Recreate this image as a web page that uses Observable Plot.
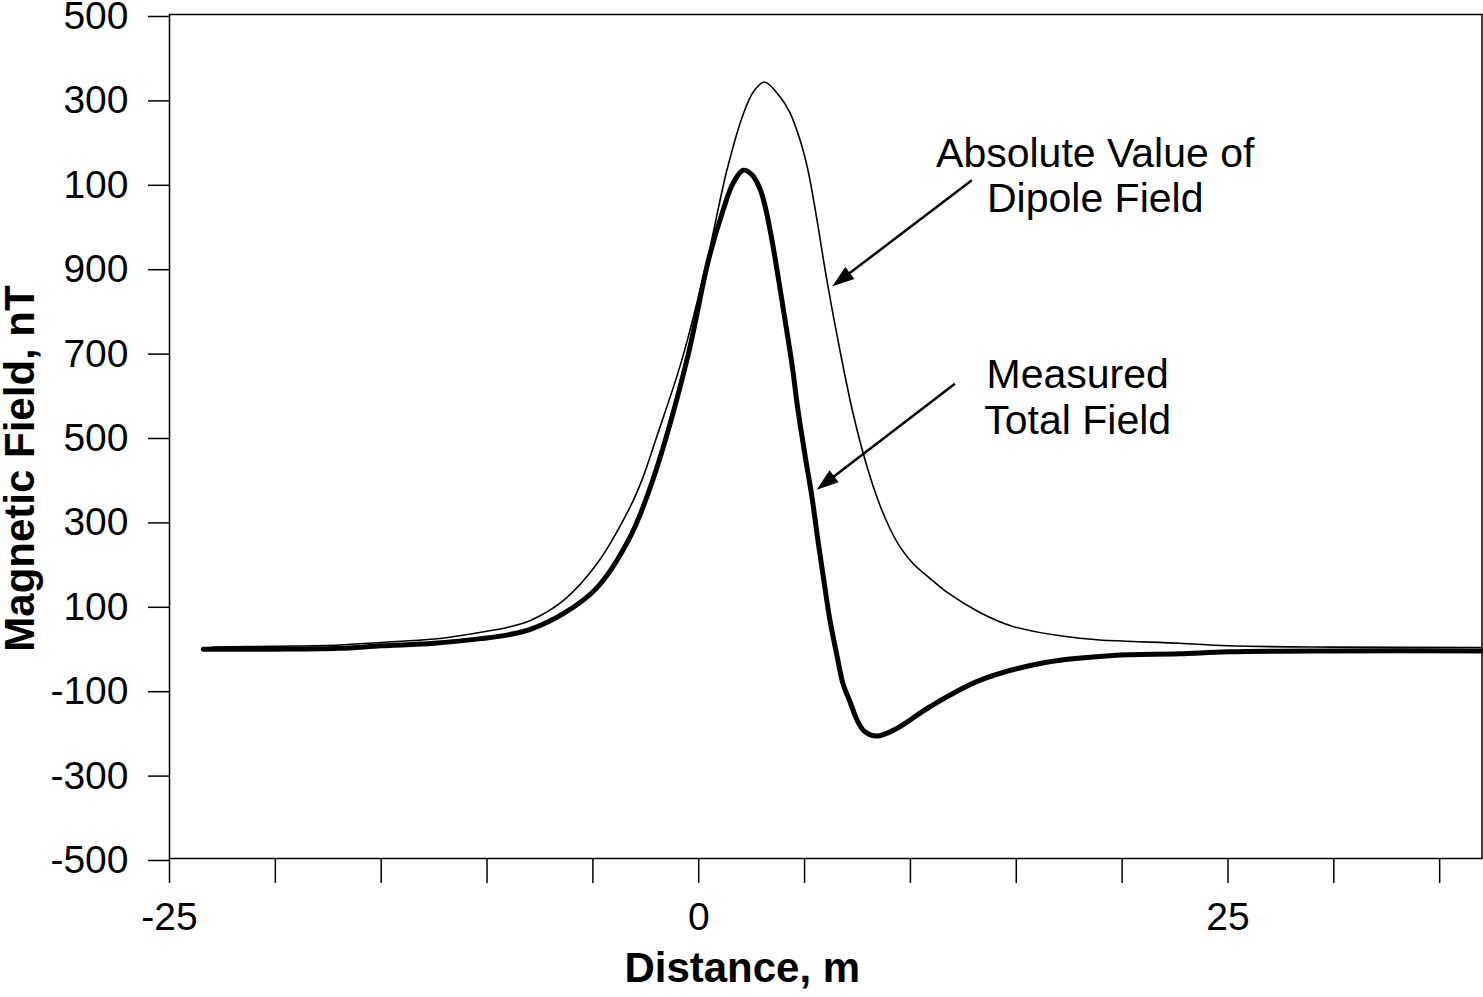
<!DOCTYPE html>
<html><head><meta charset="utf-8">
<script src="https://cdn.jsdelivr.net/npm/d3@7"></script>
<script src="https://cdn.jsdelivr.net/npm/@observablehq/plot@0.6"></script>
<style>html,body{margin:0;padding:0;background:#fff;} #chart svg{display:block;}</style>
</head><body><div id="chart"></div>
<script>
// Measured total field (thick curve)
const measuredX = [-23.4, -20, -17, -15, -12.5, -10.3, -9, -7.95, -6.4, -4.8, -3.24, -2.13, -0.56, 0.46, 1.15, 1.62, 2.1, 2.52, 2.9, 3.18, 3.46, 3.74, 4.08, 4.41, 4.69, 5.02, 5.35, 5.63, 5.91, 6.2, 6.53, 6.81, 7.14, 7.51, 7.84, 8.41, 9.35, 10.9, 13.28, 16.43, 19.56, 22.7, 25, 30, 37];
const measuredY = [-4, -4, -2, 4, 10, 21, 30, 43, 80, 142, 262, 403, 681, 918, 1036, 1100, 1131, 1120, 1086, 1036, 965, 882, 775, 669, 562, 456, 356, 254, 159, 64, -19, -85, -128, -175, -199, -210, -192, -141, -78, -35, -19, -15, -10, -8, -8];
// Absolute value of dipole field (thin curve)
const dipoleX = [-23.0, -20, -17, -15, -12.5, -10.3, -9, -7.95, -6.4, -4.8, -3.24, -2.69, -1.98, -0.8, 0.4, 1.33, 2.11, 2.6, 3.1, 3.84, 4.3, 4.79, 5.16, 5.54, 6.05, 6.67, 7.28, 7.93, 8.56, 9.03, 9.5, 10.12, 10.92, 11.72, 13.28, 14.84, 18.0, 22.72, 25, 30, 37];
const dipoleY = [1, 3, 6, 12, 20, 36, 48, 64, 111, 199, 333, 396, 500, 681, 918, 1131, 1265, 1318, 1340, 1305, 1268, 1202, 1131, 1027, 871, 704, 557, 432, 337, 282, 239, 199, 164, 131, 83, 50, 22, 10, 4, 1, 0];

// Axis ticks (labels as printed on the original)
const yTickValues = [-500, -300, -100, 100, 300, 500, 700, 900, 1100, 1300, 1500];
const yTickLabels = ["-500", "-300", "-100", "100", "300", "500", "700", "900", "100", "300", "500"];
const xTickValues = [-25, -20, -15, -10, -5, 0, 5, 10, 15, 20, 25, 30, 35];
const xLabeledValues = [-25, 0, 25];
const xLabeledText = ["-25", "0", "25"];

// Annotations
const noteText = ["Absolute Value of", "Dipole Field", "Measured", "Total Field"];
const noteX = [18.73, 18.73, 17.9, 17.9];
const noteY = [1170, 1063, 645, 538];
const arrowX1 = [12.9, 12.1];
const arrowY1 = [1107, 625];
const arrowX2 = [6.31, 5.57];
const arrowY2 = [856, 374];

const W = 1483, H = 997;
const mL = 169, mR = 1.5, mT = 14, mB = 139;
const xDomain = [-25, 37], yDomain = [-500, 1500];
const font = "'Liberation Sans', Arial, Helvetica, sans-serif";

const measured = measuredX.map((x, i) => ({x, y: measuredY[i]}));
const dipole = dipoleX.map((x, i) => ({x, y: dipoleY[i]}));
const notes = noteText.map((t, i) => ({t, x: noteX[i], y: noteY[i]}));
const kx = (W - mL - mR) / (xDomain[1] - xDomain[0]);
const ky = (H - mT - mB) / (yDomain[1] - yDomain[0]);
const arrows = arrowX1.map((x1, i) => {
  const x2 = arrowX2[i], y1 = arrowY1[i], y2 = arrowY2[i];
  const sdx = (x2 - x1) * kx, sdy = -(y2 - y1) * ky;
  return {x1, y1, x2, y2,
    sx2: x1 + (x2 - x1) * 0.88, sy2: y1 + (y2 - y1) * 0.88,
    angle: Math.atan2(sdx, -sdy) * 180 / Math.PI};
});
const yLabelMap = new Map(yTickValues.map((v, i) => [v, yTickLabels[i]]));
const xLabelMap = new Map(xLabeledValues.map((v, i) => [v, xLabeledText[i]]));

const arrowHead = {draw(ctx) { ctx.moveTo(0, 0); ctx.lineTo(-7.5, 22); ctx.lineTo(7.5, 22); ctx.closePath(); }};

const chart = Plot.plot({
  width: W, height: H,
  marginLeft: mL, marginRight: mR, marginTop: mT, marginBottom: mB,
  style: {fontFamily: font, background: "#fff", color: "#000"},
  x: {domain: xDomain, label: null},
  y: {domain: yDomain, label: null},
  marks: [
    Plot.axisY({ticks: yTickValues, tickFormat: d => yLabelMap.get(d), tickSize: 21, tickPadding: 20,
      fontSize: 39, strokeWidth: 1.5, label: null, dy: 2}),
    Plot.axisX({ticks: xTickValues, tickFormat: d => xLabelMap.get(d) ?? "", tickSize: 25, tickPadding: 19,
      fontSize: 39, strokeWidth: 1.5, label: null}),
    Plot.frame({stroke: "#000", strokeWidth: 1.5}),
    Plot.line(dipole, {x: "x", y: "y", stroke: "#000", strokeWidth: 1.6, curve: "catmull-rom"}),
    Plot.line(measured, {x: "x", y: "y", stroke: "#000", strokeWidth: 5, curve: "catmull-rom"}),
    Plot.link(arrows, {x1: "x1", y1: "y1", x2: "sx2", y2: "sy2", stroke: "#000", strokeWidth: 2.5}),
    Plot.dot(arrows, {x: "x2", y: "y2", symbol: arrowHead, r: 5, fill: "#000", stroke: "none", rotate: "angle"}),
    Plot.text(notes, {x: "x", y: "y", text: "t", fontSize: 41, fill: "#000", textAnchor: "middle", lineAnchor: "middle"}),
    Plot.text(["Magnetic Field, nT"], {frameAnchor: "left", dx: -148.5, dy: 32, rotate: -90, fontSize: 42, fontWeight: "bold", fill: "#000", textAnchor: "middle", lineAnchor: "middle"}),
    Plot.text(["Distance, m"], {frameAnchor: "bottom", dx: -83.5, dy: 110.5, fontSize: 42, fontWeight: "bold", fill: "#000", textAnchor: "middle", lineAnchor: "middle"})
  ]
});
document.getElementById("chart").appendChild(chart);
</script>
</body></html>
